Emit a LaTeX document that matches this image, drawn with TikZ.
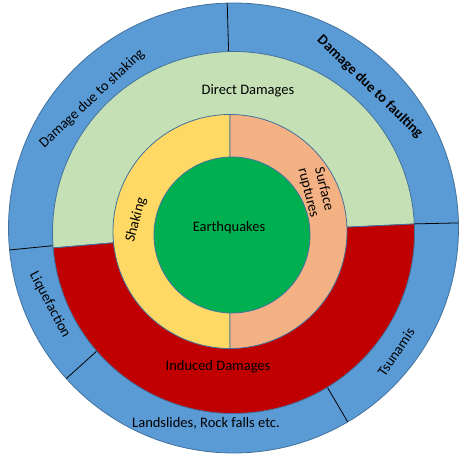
\documentclass[tikz,border=0pt]{standalone}
\usepackage{fontspec}
\setmainfont{Carlito}
\usetikzlibrary{calc}
\definecolor{cblue}{HTML}{5B9BD5}
\definecolor{cedge}{HTML}{41719C}
\definecolor{clgreen}{HTML}{C5E0B4}
\definecolor{cred}{HTML}{C00000}
\definecolor{cyellow}{HTML}{FFD966}
\definecolor{corange}{HTML}{F4B183}
\definecolor{cgreen}{HTML}{00B050}
\begin{document}
\begin{tikzpicture}[x=1pt,y=1pt,
  region/.style={draw=cedge,line width=0.8pt},
  divider/.style={draw=black,line width=0.8pt},
  lbl/.style={font=\fontsize{14.5}{16}\selectfont,inner sep=0pt,align=center}]
\useasboundingbox (0,0) rectangle (473,458);
% outer blue ring
\coordinate (oc) at (233.5,230);
\filldraw[fill=cblue,region] (oc) circle[radius=225];
\foreach \a in {91.6,1.3,185.6,222,300.5}
  \draw[divider] ($(oc)+(\a:170)$) -- ($(oc)+(\a:225)$);
% middle disc: direct (green) and induced (red)
\coordinate (mc) at (233.5,225.5);
\filldraw[fill=clgreen,region] (mc) -- ($(mc)+(2.7:181)$) arc[start angle=2.7,end angle=184.9,radius=181] -- cycle;
\filldraw[fill=cred,region] (mc) -- ($(mc)+(184.9:181)$) arc[start angle=184.9,end angle=362.7,radius=181] -- cycle;
% ring: shaking and surface ruptures
\coordinate (rc) at (230,226.5);
\filldraw[fill=cyellow,region] (rc) -- ($(rc)+(90:117)$) arc[start angle=90,end angle=270,radius=117] -- cycle;
\filldraw[fill=corange,region] (rc) -- ($(rc)+(-90:117)$) arc[start angle=-90,end angle=90,radius=117] -- cycle;
% core
\filldraw[fill=cgreen,region] (232,223) circle[radius=78];
% labels
\node[lbl] (eq) at (229,230) {Earthquakes};
\node[lbl] (dd) at (248,367) {Direct Damages};
\node[lbl] (id) at (218,91) {Induced Damages};
\node[lbl,rotate=75] (sh) at (136,238) {Shaking};
\node[lbl,rotate=-76] (sr) at (316,267) {Surface\\ruptures};
\node[lbl,rotate=43] (ds) at (92,359) {Damage due to shaking};
\node[lbl,rotate=-44,font=\fontsize{14.5}{16}\selectfont\bfseries] (df) at (370,371) {Damage due to faulting};
\node[lbl,rotate=-62] (lq) at (50,153) {Liquefaction};
\node[lbl] (ls) at (206,35) {Landslides, Rock falls etc.};
\node[lbl,rotate=56] (ts) at (396,106) {Tsunamis};
\end{tikzpicture}
\end{document}
